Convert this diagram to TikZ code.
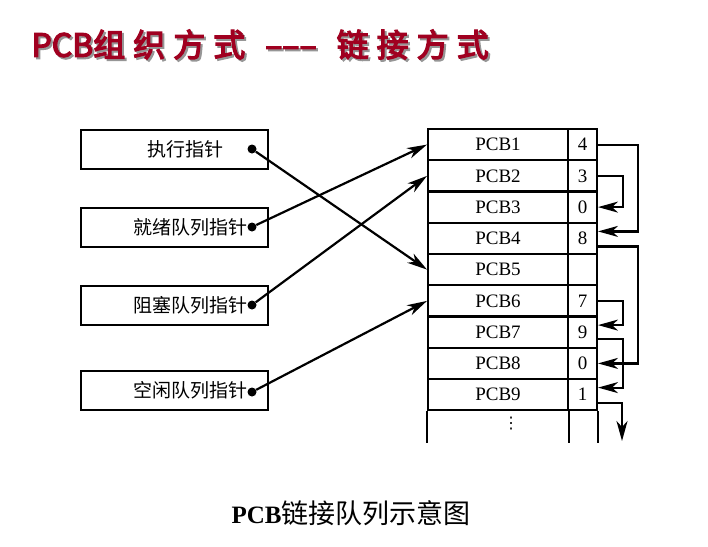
\documentclass[tikz,border=0pt]{standalone}
\usepackage{fontspec}
\setmainfont{Liberation Serif}
\newfontfamily\cjk{Noto Sans CJK SC}
\newfontfamily\titlefont[FakeBold=4]{Noto Sans CJK SC}
\newfontfamily\symfont{DejaVu Sans}
\usetikzlibrary{arrows.meta}
\definecolor{titlered}{RGB}{160,0,32}
\definecolor{shadowgray}{RGB}{150,150,150}

\begin{document}
\begin{tikzpicture}[
    x=1pt, y=-1pt,
    ptrbox/.style={draw, line width=2pt, minimum width=187pt, minimum height=39pt, inner sep=0pt},
    ptrtext/.style={font=\fontsize{19}{19}\selectfont\cjk, inner sep=0pt},
    cell/.style={draw, line width=2pt, minimum width=140pt, minimum height=31.25pt, inner sep=0pt, font=\fontsize{19}{19}\selectfont},
    nextcell/.style={cell, minimum width=29pt},
    dot/.style={circle, fill, inner sep=0pt, minimum size=9pt},
    link/.style={-{Stealth[length=20pt,width=11pt,inset=6pt]}, line width=2.2pt}
]
\fill[white] (0,0) rectangle (708,546);
\useasboundingbox (0,0) rectangle (708,546);

% 标题
\node[anchor=west, text=shadowgray, font=\fontsize{32}{32}\selectfont\titlefont] (titleshadow) at (30,46.5)
    {PCB组\hspace{8pt}织\hspace{8pt}方\hspace{8pt}式\hspace{20pt}–––\hspace{20pt}链\hspace{8pt}接\hspace{8pt}方\hspace{8pt}式};
\node[anchor=west, text=titlered, font=\fontsize{32}{32}\selectfont\titlefont] (title) at (28,44.5)
    {PCB组\hspace{8pt}织\hspace{8pt}方\hspace{8pt}式\hspace{20pt}–––\hspace{20pt}链\hspace{8pt}接\hspace{8pt}方\hspace{8pt}式};

% 指针
\node[ptrbox] (exec) at (174.5,149) {};
\node[ptrbox] (ready) at (174.5,227) {};
\node[ptrbox] (block) at (174.5,305) {};
\node[ptrbox] (free) at (174.5,390.5) {};
\node[ptrtext] at (185,149) {执行指针};
\node[ptrtext] at (190,227) {就绪队列指针};
\node[ptrtext] at (190,305) {阻塞队列指针};
\node[ptrtext] at (190,390.5) {空闲队列指针};
\node[dot] (execdot) at (252,149) {};
\node[dot] (readydot) at (252,227) {};
\node[dot] (blockdot) at (252,305) {};
\node[dot] (freedot) at (252,392) {};

% PCB表
\node[cell] (pcb1) at (498,144.6) {PCB1};
\node[cell] (pcb2) at (498,175.9) {PCB2};
\node[cell] (pcb3) at (498,207.1) {PCB3};
\node[cell] (pcb4) at (498,238.4) {PCB4};
\node[cell] (pcb5) at (498,269.6) {PCB5};
\node[cell] (pcb6) at (498,300.9) {PCB6};
\node[cell] (pcb7) at (498,332.1) {PCB7};
\node[cell] (pcb8) at (498,363.4) {PCB8};
\node[cell] (pcb9) at (498,394.6) {PCB9};
\node[nextcell] (nx1) at (582.5,144.6) {4};
\node[nextcell] (nx2) at (582.5,175.9) {3};
\node[nextcell] (nx3) at (582.5,207.1) {0};
\node[nextcell] (nx4) at (582.5,238.4) {8};
\node[nextcell] (nx5) at (582.5,269.6) {};
\node[nextcell] (nx6) at (582.5,300.9) {7};
\node[nextcell] (nx7) at (582.5,332.1) {9};
\node[nextcell] (nx8) at (582.5,363.4) {0};
\node[nextcell] (nx9) at (582.5,394.6) {1};
\draw[line width=2pt] (pcb9.south west) -- ++(0,32);
\draw[line width=2pt] (pcb9.south east) -- ++(0,32);
\draw[line width=2pt] (nx9.south east) -- ++(0,32);
\node[font=\fontsize{16}{16}\selectfont\symfont] (more) at (511,424) {⋮};

% 指针到表
\draw[link] (execdot) -- (pcb5.west);
\draw[link] (readydot) -- (pcb1.west);
\draw[link] (blockdot) -- (pcb2.west);
\draw[link] (freedot) -- (pcb6.west);

% 链接
\coordinate (tail) at (622,441);
\draw[link] (nx1.east) -- ++(40,0) |- ([yshift=7pt]nx4.east);
\draw[link] (nx2.east) -- ++(25,0) |- (nx3.east);
\draw[link] ([yshift=-8pt]nx4.east) -- ++(40,0) |- (nx8.east);
\draw[link] (nx6.east) -- ++(25,0) |- ([yshift=7pt]nx7.east);
\draw[link] ([yshift=-7pt]nx7.east) -- ++(25,0) |- ([yshift=7pt]nx9.east);
\draw[link] ([yshift=-8pt]nx9.east) -| (tail);

% 说明
\node[font=\fontsize{25}{25}\selectfont] (caption) at (351,513) {\textbf{PCB}{\cjk\fontsize{27}{27}\selectfont 链接队列示意图}};
\end{tikzpicture}
\end{document}
